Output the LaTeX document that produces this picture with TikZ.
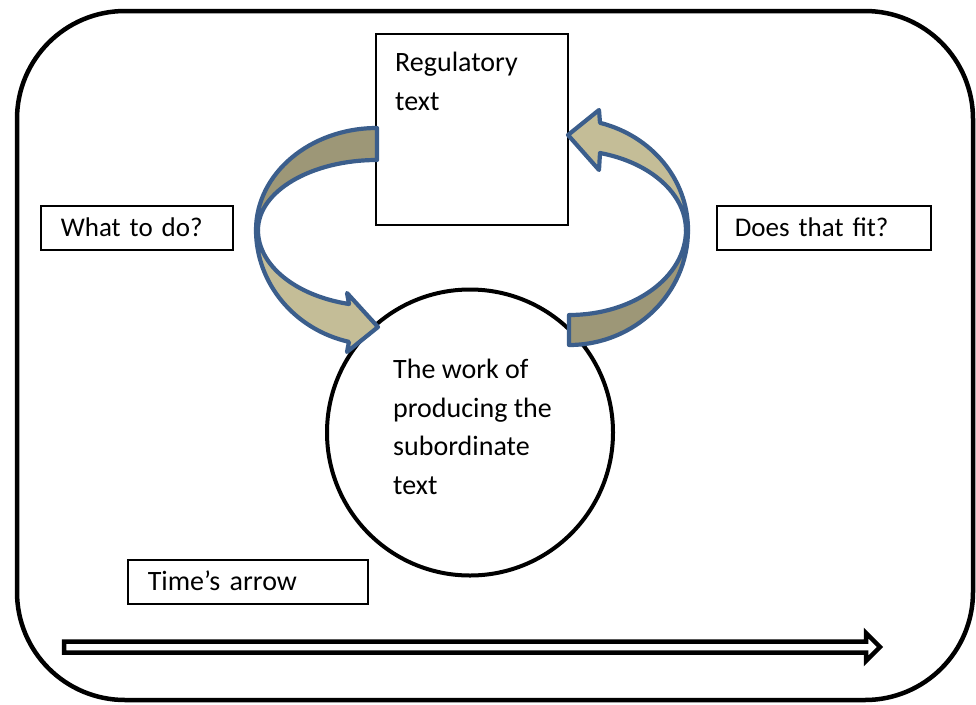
\documentclass[tikz,border=0pt]{standalone}
\usepackage{fontspec}
\setmainfont{Carlito}
\definecolor{bandlight}{HTML}{C4BD97}
\definecolor{banddark}{HTML}{9D9777}
\definecolor{bandedge}{HTML}{3B5E8C}
\begin{document}
\begin{tikzpicture}[x=1pt,y=-1pt,
  txt/.style={font=\fontsize{28}{38.5}\selectfont},
  frame/.style={line width=4.5pt, rounded corners=108pt},
  lbl/.style={txt, draw, line width=1.6pt, minimum height=44pt, anchor=west,
    align=left, text height=22pt, text depth=5pt},
  band/.style={draw=bandedge, line width=4.2pt, line join=round},
  timearrow/.style={draw=black, fill=white, line width=4.5pt, line join=miter}
]
\useasboundingbox (0,0) rectangle (976,704);

% outer frame
\draw[frame] (17,11) rectangle (973,700);

% regulatory text box
\node[draw, line width=1.8pt, minimum width=192pt, minimum height=191pt, inner sep=0pt]
  (reg) at (472,129.5) {};
\node[txt, anchor=north west, align=left, inner sep=0pt] (regtext) at (395,52)
  {Regulatory\\text};

% the work, a circle
\node[draw, circle, line width=4pt, minimum size=286pt, inner sep=0pt]
  (work) at (470,432.5) {};
\node[txt, anchor=north west, align=left, inner sep=0pt] (worktext) at (393,359)
  {The work of\\producing the\\subordinate\\text};

% side labels
\node[lbl, inner xsep=20pt, text width=152pt, font=\fontsize{27}{38.5}\selectfont]
  (what) at (40,228) {What to do?};
\node[lbl, inner xsep=18pt, text width=178pt, font=\fontsize{27}{38.5}\selectfont]
  (fit) at (716,228) {Does that fit?};
\node[lbl, inner xsep=20pt, text width=200pt] (time) at (127,582) {Time’s arrow};

% left curved arrow: back band, then front band with head
\path[band, fill=banddark]
  (377,128) arc[start angle=270, end angle=180, x radius=121, y radius=102]
  -- (258,230) arc[start angle=180, end angle=270, x radius=119, y radius=70]
  -- cycle;
\path[band, fill=bandlight]
  (256,230) arc[start angle=180, end angle=103.4, x radius=121, y radius=115]
  -- (347,352) -- (378,327) -- (347,293) -- (349,304)
  arc[start angle=103.6, end angle=180, x radius=119, y radius=76]
  -- cycle;

% right curved arrow: back band, then front band with head
\path[band, fill=banddark]
  (688,230) arc[start angle=0, end angle=90, x radius=119, y radius=115]
  -- (569,315) arc[start angle=90, end angle=0, x radius=117, y radius=85]
  -- cycle;
\path[band, fill=bandlight]
  (688,230) arc[start angle=0, end angle=-74.9, x radius=119, y radius=111]
  -- (599,110) -- (568,135) -- (599,170) -- (600,153)
  arc[start angle=-74.6, end angle=0, x radius=117, y radius=80]
  -- cycle;

% time's arrow
\coordinate (ttop) at (64,641.5);
\coordinate (tbot) at (64,652.5);
\coordinate (tend) at (880,647);
\draw[timearrow]
  (ttop) -- (866,641.5) -- (866,633) -- (tend)
  -- (866,661) -- (866,652.5) -- (tbot) -- cycle;
\end{tikzpicture}
\end{document}
